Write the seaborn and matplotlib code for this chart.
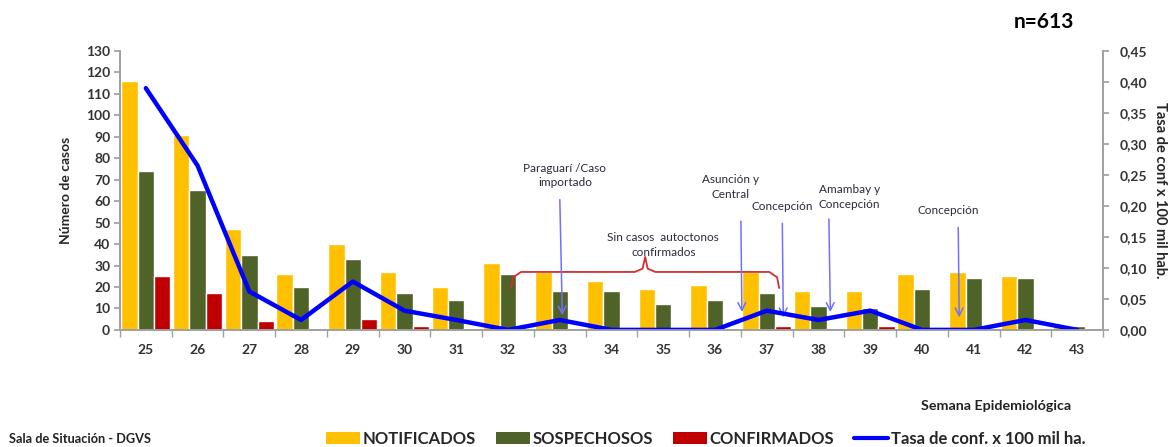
import matplotlib
matplotlib.use("Agg")
import matplotlib.pyplot as plt
from matplotlib.lines import Line2D
from matplotlib.patches import Patch
from matplotlib.ticker import FuncFormatter, FixedLocator
import numpy as np
import pandas as pd
import seaborn as sns

# ── Data ─────────────────────────────────────────────────────────────
semanas = ["25", "26", "27", "28", "29", "30", "31", "32", "33", "34",
           "35", "36", "37", "38", "39", "40", "41", "42", "43"]
notificados = [116, 91, 47, 26, 40, 27, 20, 31, 27, 23, 19, 21, 27, 18, 18, 26, 27, 25, 2]
sospechosos = [74, 65, 35, 20, 33, 17, 14, 26, 18, 18, 12, 14, 17, 11, 10, 19, 24, 24, 2]
confirmados = [25, 17, 4, 1, 5, 2, 1, 0, 1, 0, 0, 0, 2, 1, 2, 0, 0, 1, 0]
tasa = [0.39, 0.265, 0.062, 0.016, 0.078, 0.031, 0.016, 0.0, 0.016, 0.0,
        0.0, 0.0, 0.031, 0.016, 0.031, 0.0, 0.0, 0.016, 0.0]

series = ["NOTIFICADOS", "SOSPECHOSOS", "CONFIRMADOS"]
colores = ["#FFC000", "#4F6228", "#C00000"]
color_linea = "#0000FF"
color_flecha = "#7070FF"
color_texto = "#2B2B3A"

df = pd.DataFrame({
    "semana": semanas * 3,
    "serie": np.repeat(series, len(semanas)),
    "casos": notificados + sospechosos + confirmados,
})

sns.set_theme(style="white")
plt.rcParams["font.family"] = ["Lato", "DejaVu Sans"]

fig = plt.figure(figsize=(11.76, 4.47), dpi=100)
ax = fig.add_axes([0.102, 0.262, 0.836, 0.624])

sns.barplot(data=df, x="semana", y="casos", hue="serie", order=semanas,
            hue_order=series, palette=colores, saturation=1, width=0.95,
            gap=0, legend=False, ax=ax)

ax2 = ax.twinx()
sns.lineplot(x=np.arange(len(semanas)), y=tasa, color=color_linea, lw=3.2, ax=ax2)

# ── Axes ──────────────────────────────────────────────────────────────
ax.set_xlim(-0.5, len(semanas) - 0.5)
ax.set_ylim(0, 130)
ax.set_yticks(range(0, 131, 10))
ax2.set_ylim(0, 0.45)
ax2.set_yticks(np.arange(0, 0.451, 0.05))
ax2.yaxis.set_major_formatter(FuncFormatter(lambda v, _: f"{v:.2f}".replace(".", ",")))

ax.xaxis.set_minor_locator(FixedLocator(np.arange(-0.5, len(semanas), 1)))
ax.tick_params(axis="x", which="major", length=0, pad=10)
ax.tick_params(axis="x", which="minor", length=5, color="#A0A0A0", width=1, bottom=True)
ax.tick_params(axis="y", length=4, color="#A0A0A0", left=True, pad=3)
ax2.tick_params(axis="y", length=4, color="#A0A0A0", right=True, pad=8)

for a in (ax, ax2):
    for side in ("left", "right", "bottom"):
        a.spines[side].set_color("#A0A0A0")
        a.spines[side].set_linewidth(1.2)
    a.spines["top"].set_visible(False)
    for lab in a.get_xticklabels() + a.get_yticklabels():
        lab.set_fontweight("bold")
        lab.set_fontsize(10)
        lab.set_color("#333333")

ax.set_xlabel("")
ax.set_ylabel("Número de casos", fontsize=10, fontweight="bold", labelpad=10)
ax2.set_ylabel("Tasa de conf x 100 mil hab.", fontsize=10.5, fontweight="bold",
               rotation=-90, labelpad=14)

# ── Annotations ───────────────────────────────────────────────────────
notas = [
    ("Paraguarí /Caso\nimportado", 8.1, 72, 8.0, 62, 8.05, 5.5),
    ("Asunción y\nCentral", 11.3, 66.5, 11.5, 52, 11.52, 7),
    ("Concepción", 12.3, 57.5, 12.3, 51, 12.32, 4.5),
    ("Amambay y\nConcepción", 13.6, 62, 13.2, 53, 13.23, 7),
    ("Concepción", 15.5, 55.5, 15.7, 49, 15.72, 4.5),
]
for texto, tx, ty, ax0, ay0, ax1, ay1 in notas:
    ax.text(tx, ty, texto, ha="center", va="center", fontsize=8.5,
            color=color_texto, linespacing=1.4)
    ax.annotate("", xy=(ax1, ay1), xytext=(ax0, ay0),
                arrowprops=dict(arrowstyle="->", color=color_flecha, lw=1.1,
                                mutation_scale=14))

ax.text(10.0, 39.5, "Sin casos  autoctonos\nconfirmados", ha="center", va="center",
        fontsize=8.5, color=color_texto, linespacing=1.4)
# curly bracket over weeks 32-37
bx = [7.06, 7.1, 7.25, 9.45, 9.6, 9.65, 9.7, 9.85, 12.05, 12.2, 12.24]
by = [19.5, 24.5, 27, 27, 28.5, 34, 28.5, 27, 27, 24.5, 19.5]
ax.plot(bx, by, color="#D03030", lw=1.3, solid_joinstyle="round")

# ── Figure text & legend ──────────────────────────────────────────────
fig.text(0.888, 0.950, "n=613", fontsize=15, fontweight="bold", ha="center", va="center",
         color="black")
fig.text(0.847, 0.092, "Semana Epidemiológica", fontsize=10.3, fontweight="bold",
         ha="center", va="center", color="#222222")
fig.text(0.008, 0.018, "Sala de Situación - DGVS", fontsize=9.2, fontweight="bold",
         ha="left", va="center", color="#222222")

handles = [Patch(facecolor=c, edgecolor="none") for c in colores]
handles.append(Line2D([0], [0], color=color_linea, lw=3))
leg = fig.legend(handles, series + ["Tasa de conf. x 100 mil ha."], loc="center left",
                 bbox_to_anchor=(0.277, 0.018), ncol=4, frameon=False,
                 prop={"weight": "bold", "size": 12}, handlelength=2.05,
                 handleheight=0.7, handletextpad=0.15, columnspacing=1.2,
                 borderpad=0, borderaxespad=0)

fig.savefig("out.png", dpi=100)
